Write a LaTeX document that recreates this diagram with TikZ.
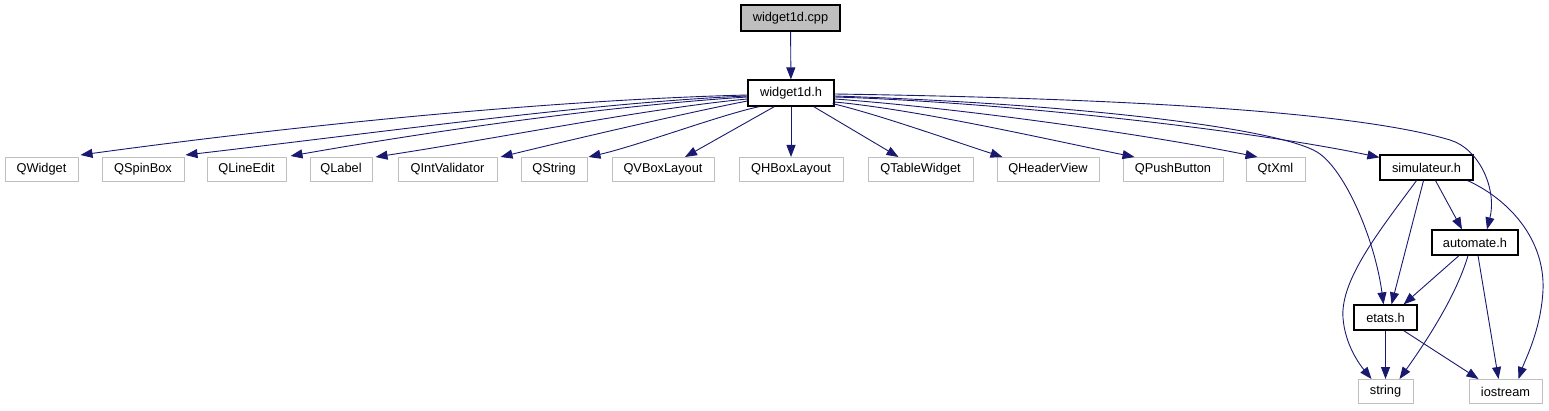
\documentclass[tikz,border=0pt]{standalone}
\usepackage{fontspec}
\setmainfont{Liberation Sans}
\usetikzlibrary{arrows.meta,calc}
\definecolor{edgeblue}{RGB}{25,25,112}
\definecolor{boxgray}{RGB}{191,191,191}
\definecolor{cppfill}{RGB}{191,191,191}
\tikzset{
  gnode/.style={draw=boxgray,line width=1pt,fill=white,inner sep=0pt,minimum height=24pt,font=\fontsize{12.8}{15}\selectfont},
  bnode/.style={draw=black,line width=1.2pt,fill=white,inner sep=0pt,minimum height=25pt,font=\fontsize{12.8}{15}\selectfont},
  edge/.style={draw=edgeblue,line width=0.9pt,-{Triangle[length=12pt,width=9pt]}},
}
\begin{document}
\begin{tikzpicture}[x=1pt,y=-1pt]
\useasboundingbox (0,0) rectangle (1549,411);
% nodes
\node[bnode,fill=cppfill,minimum width=99pt,minimum height=26pt] (cpp) at (790.5,18) {widget1d.cpp};
\node[bnode,minimum width=86pt,minimum height=26pt] (h) at (791,93) {widget1d.h};
\node[gnode,minimum width=73pt] (qw) at (41.5,169.5) {QWidget};
\node[gnode,minimum width=82pt] (qsb) at (143,169.5) {QSpinBox};
\node[gnode,minimum width=79pt] (qle) at (246.5,169.5) {QLineEdit};
\node[gnode,minimum width=62pt] (ql) at (341,169.5) {QLabel};
\node[gnode,minimum width=99pt] (qiv) at (447.5,169.5) {QIntValidator};
\node[gnode,minimum width=66pt] (qs) at (554,169.5) {QString};
\node[gnode,minimum width=102pt] (qvb) at (663,169.5) {QVBoxLayout};
\node[gnode,minimum width=104pt] (qhb) at (791,169.5) {QHBoxLayout};
\node[gnode,minimum width=105pt] (qtw) at (920.5,169.5) {QTableWidget};
\node[gnode,minimum width=102pt] (qhv) at (1048,169.5) {QHeaderView};
\node[gnode,minimum width=100pt] (qpb) at (1173,169.5) {QPushButton};
\node[gnode,minimum width=59pt] (qx) at (1275.5,169.5) {QtXml};
\node[bnode,minimum width=93pt] (sim) at (1426.5,167.5) {simulateur.h};
\node[bnode,minimum width=86pt] (aut) at (1475,242.5) {automate.h};
\node[bnode,minimum width=63pt] (et) at (1385.5,317.5) {etats.h};
\node[gnode,minimum width=55pt] (str) at (1385.5,391.5) {string};
\node[gnode,minimum width=73pt] (ios) at (1505.5,391.5) {iostream};
% waypoints
\coordinate (e1) at (1317,152);
\coordinate (e2) at (1450,140);
\coordinate (s1) at (1343,318);
\coordinate (s2) at (1543,290);
% edges
\draw[edge] (cpp) -- (h);
\draw[edge] ([yshift=-2pt]h.west) .. controls (550,100) and (300,125) .. ([xshift=2pt,yshift=2pt]qw.north east);
\draw[edge] ([yshift=-3pt]h.west) .. controls (600,102) and (400,130) .. ([xshift=1pt,yshift=2pt]qsb.north east);
\draw[edge] ([yshift=-4pt]h.west) .. controls (620,105) and (450,128) .. ([xshift=4pt,yshift=1pt]qle.north east);
\draw[edge] ([yshift=-6pt]h.west) .. controls (650,108) and (500,138) .. ([xshift=3pt]ql.north east);
\draw[edge] ([yshift=-8pt]h.west) .. controls (690,112) and (570,140) .. ([xshift=3pt]qiv.north east);
\draw[edge] ([xshift=12pt]h.south west) .. controls (720,115) and (640,145) .. ([xshift=1pt]qs.north east);
\draw[edge] ([xshift=27pt]h.south west) -- ([xshift=22pt]qvb.north);
\draw[edge] (h.south) -- (qhb.north);
\draw[edge] ([xshift=-21pt]h.south east) -- ([xshift=-22pt]qtw.north);
\draw[edge] ([xshift=-2pt,yshift=3pt]h.south east) .. controls (880,115) and (950,140) .. ([xshift=6pt]qhv.north west);
\draw[edge] ([yshift=-9pt]h.east) .. controls (920,110) and (1050,140) .. ([xshift=12pt]qpb.north west);
\draw[edge] ([yshift=-6pt]h.east) .. controls (960,108) and (1150,135) .. ([xshift=12pt]qx.north west);
\draw[edge] ([yshift=-4pt]h.east) .. controls (1000,102) and (1250,130) .. ([yshift=-3pt]sim.north west);
\draw[edge] ([yshift=-3pt]h.east) .. controls (1100,105) and (1280,130) .. (e1) .. controls (1345,169) and (1375,240) .. ([xshift=-2pt]et.north);
\draw[edge] ([yshift=-1pt]h.east) .. controls (1100,98) and (1350,110) .. (e2) .. controls (1480,149) and (1497,190) .. ([xshift=12pt]aut.north);
\draw[edge] ([xshift=9pt]sim.south) -- ([xshift=-13pt]aut.north);
\draw[edge] ([xshift=-3pt]sim.south) -- ([xshift=6pt]et.north);
\draw[edge] ([xshift=-10pt]sim.south) .. controls (1380,230) and (1340,280) .. (s1) .. controls (1345,345) and (1360,365) .. ([xshift=-14pt]str.north);
\draw[edge] ([xshift=-6pt]sim.south east) .. controls (1510,200) and (1545,240) .. (s2) .. controls (1541,330) and (1525,360) .. ([xshift=13pt]ios.north);
\draw[edge] ([xshift=-16pt]aut.south) -- ([xshift=-14pt]et.north east);
\draw[edge] ([xshift=-7pt]aut.south) .. controls (1455,300) and (1420,350) .. ([xshift=14pt]str.north);
\draw[edge] ([xshift=3pt]aut.south) -- ([xshift=-7pt]ios.north);
\draw[edge] (et.south) -- (str.north);
\draw[edge] ([xshift=-14pt]et.south east) -- ([xshift=-27pt]ios.north);
\end{tikzpicture}
\end{document}
